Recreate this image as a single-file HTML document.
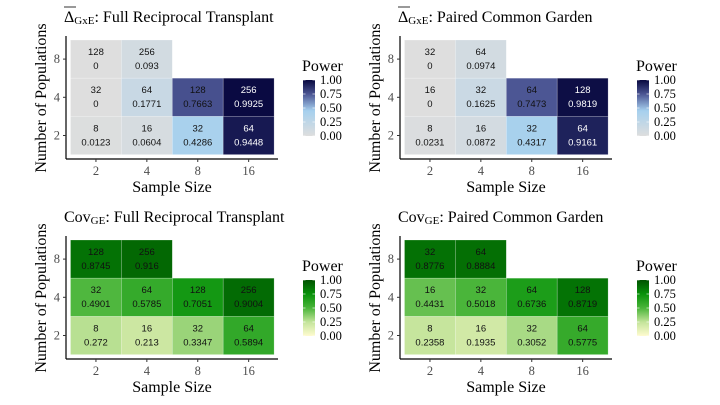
<!DOCTYPE html>
<html><head><meta charset="utf-8">
<style>
body{margin:0;background:#fff;}
svg{display:block;font-family:"Liberation Serif",serif;}
.cl{font-family:"Liberation Sans",sans-serif;font-size:9.5px;}
</style></head>
<body>
<svg id="c" width="720" height="405" viewBox="0 0 720 405">
<defs>
<linearGradient id="gb" x1="0" y1="1" x2="0" y2="0">
<stop offset="0" stop-color="#dedede"/><stop offset="0.45" stop-color="#a6d0ee"/><stop offset="0.75" stop-color="#4b5593"/><stop offset="1" stop-color="#08083f"/>
</linearGradient>
<linearGradient id="gg" x1="0" y1="1" x2="0" y2="0">
<stop offset="0" stop-color="#fffbd0"/><stop offset="0.25" stop-color="#c3e49a"/><stop offset="0.5" stop-color="#4ab53a"/><stop offset="0.75" stop-color="#08920a"/><stop offset="1" stop-color="#005200"/>
</linearGradient>
</defs>
</svg>
<script>
const sampleSizes=["2","4","8","16"];
const popLabels=["2","4","8"];
// cells: [col index, row index (0=top, populations 8)]
const cellCols=[0,1,0,1,2,3,0,1,2,3];
const cellRows=[0,0,1,1,1,1,2,2,2,2];
const nDeltaFull=[128,256,32,64,128,256,8,16,32,64];
const pDeltaFull=[0,0.093,0,0.1771,0.7663,0.9925,0.0123,0.0604,0.4286,0.9448];
const nDeltaPaired=[32,64,16,32,64,128,8,16,32,64];
const pDeltaPaired=[0,0.0974,0,0.1625,0.7473,0.9819,0.0231,0.0872,0.4317,0.9161];
const nCovFull=[128,256,32,64,128,256,8,16,32,64];
const pCovFull=[0.8745,0.916,0.4901,0.5785,0.7051,0.9004,0.272,0.213,0.3347,0.5894];
const nCovPaired=[32,64,16,32,64,128,8,16,32,64];
const pCovPaired=[0.8776,0.8884,0.4431,0.5018,0.6736,0.8719,0.2358,0.1935,0.3052,0.5775];
const legendTicks=[0,0.25,0.5,0.75,1];

const NS="http://www.w3.org/2000/svg";
const svg=document.getElementById('c');
function mk(t,a,p){const e=document.createElementNS(NS,t);for(const k in a)e.setAttribute(k,a[k]);(p||svg).appendChild(e);return e;}
function lerp(a,b,t){return a+(b-a)*t;}
function hex(h){return [1,3,5].map(i=>parseInt(h.substr(i,2),16));}
function scaleColor(stops,v){for(let i=1;i<stops.length;i++){if(v<=stops[i][0]){const t=(v-stops[i-1][0])/(stops[i][0]-stops[i-1][0]);const a=hex(stops[i-1][1]),b=hex(stops[i][1]);return 'rgb('+a.map((x,j)=>Math.round(lerp(x,b[j],t))).join(',')+')';}}return stops[stops.length-1][1];}
const blueStops=[[0,'#dedede'],[0.45,'#a6d0ee'],[0.75,'#4b5593'],[1,'#08083f']];
const greenStops=[[0,'#fffbd0'],[0.25,'#c3e49a'],[0.5,'#4ab53a'],[0.75,'#08920a'],[1,'#005200']];

function panel(ox,oy,titleMain,titleSub,titleRest,overbar,ns,ps,stops,grad,whiteAbove,name){
  const g=mk('g',{transform:'translate('+ox+','+oy+')'});
  
  
  const x0=70.5,cw=50.9,y0=40,rh=38.2;
  const xs=i=>x0+i*cw, ys=r=>y0+r*rh;
  const t=mk('text',{x:64,y:22,'font-size':16,fill:'#000'},g);
  
  
  t.innerHTML=titleMain+'<tspan font-size="11" dy="2">'+titleSub+'</tspan><tspan dy="-2">'+titleRest+'</tspan>';
  if(overbar){mk('line',{x1:64,x2:76,y1:7,y2:7,stroke:'#000','stroke-width':0.8},g);}
  ns.forEach((n,i)=>{
    const c=cellCols[i],r=cellRows[i],v=ps[i];
    const rc=mk('rect',{x:xs(c),y:ys(r),width:cw,height:rh,fill:scaleColor(stops,v),stroke:'rgba(255,255,255,0.35)','stroke-width':0.6},g);
    
    
    const col=v>whiteAbove?'#fff':'#111';
    const a=mk('text',{x:xs(c)+cw/2,y:ys(r)+15,'text-anchor':'middle',fill:col,class:'cl'},g);a.textContent=n;
    
    
    const b=mk('text',{x:xs(c)+cw/2,y:ys(r)+29,'text-anchor':'middle',fill:col,class:'cl'},g);b.textContent=v;
    
    
  });
  mk('line',{x1:66,x2:66,y1:36,y2:159,stroke:'#000','stroke-width':1.2},g);
  mk('line',{x1:66,x2:278,y1:159,y2:159,stroke:'#000','stroke-width':1.2},g);
  sampleSizes.forEach((s,i)=>{
    const x=xs(i)+cw/2;
    mk('line',{x1:x,x2:x,y1:159,y2:162,stroke:'#333'},g);
    const tl=mk('text',{x:x,y:175,'text-anchor':'middle','font-size':12.5,fill:'#4d4d4d'},g);tl.textContent=s;
    
    
  });
  popLabels.forEach((p,i)=>{
    const y=ys(2-i)+rh/2;
    mk('line',{x1:63,x2:66,y1:y,y2:y,stroke:'#333'},g);
    const tl=mk('text',{x:60,y:y+4,'text-anchor':'end','font-size':12.5,fill:'#4d4d4d'},g);tl.textContent=p;
    
    
  });
  const xt=mk('text',{x:172,y:192,'text-anchor':'middle','font-size':16},g);xt.textContent='Sample Size';
  
  
  const yt=mk('text',{x:0,y:0,'text-anchor':'middle','font-size':16,transform:'translate(46,98) rotate(-90)'},g);yt.textContent='Number of Populations';
  
  
  const lt=mk('text',{x:302,y:71,'font-size':16},g);lt.textContent='Power';
  
  
  const lb=mk('rect',{x:303,y:80,width:12,height:56,fill:'url(#'+grad+')'},g);
  
  
  legendTicks.forEach(v=>{
    const y=136-v*56;
    mk('line',{x1:303,x2:305.5,y1:y,y2:y,stroke:'#fff','stroke-width':0.6},g);
    mk('line',{x1:312.5,x2:315,y1:y,y2:y,stroke:'#fff','stroke-width':0.6},g);
    const l=mk('text',{x:320,y:y+4,'font-size':12.5},g);l.textContent=v.toFixed(2);
    
    
  });
}
panel(0,0,'Δ','GxE',': Full Reciprocal Transplant',true,nDeltaFull,pDeltaFull,blueStops,'gb',0.9,'panel-delta-full');
panel(334,0,'Δ','GxE',': Paired Common Garden',true,nDeltaPaired,pDeltaPaired,blueStops,'gb',0.9,'panel-delta-paired');
panel(0,200,'Cov','GE',': Full Reciprocal Transplant',false,nCovFull,pCovFull,greenStops,'gg',2,'panel-cov-full');
panel(334,200,'Cov','GE',': Paired Common Garden',false,nCovPaired,pCovPaired,greenStops,'gg',2,'panel-cov-paired');
</script>
</body></html>
